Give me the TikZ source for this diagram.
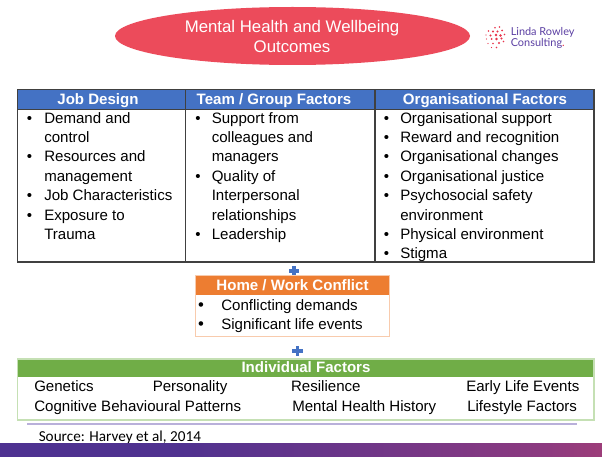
\documentclass[tikz,border=0pt]{standalone}
\usepackage{fontspec}
\setmainfont{Liberation Sans}
\newfontfamily\srcfont{Carlito}
\newfontfamily\logofont{Lato}
\usetikzlibrary{shapes.geometric}
\definecolor{ellred}{HTML}{EC4B5B}
\definecolor{hdrblue}{HTML}{4472C4}
\definecolor{hdrorange}{HTML}{ED7D31}
\definecolor{hdrgreen}{HTML}{70AD47}
\definecolor{lightorange}{HTML}{F8CBAD}
\definecolor{lightgreen}{HTML}{C5E0B4}
\definecolor{tblborder}{HTML}{404040}
\definecolor{plusblue}{HTML}{4472C4}
\definecolor{logopurple}{HTML}{5B3FA3}
\definecolor{logored}{HTML}{E8334A}
\definecolor{lavender}{HTML}{B9B0DA}
\definecolor{barA}{HTML}{4A3192}
\definecolor{barB}{HTML}{503290}
\definecolor{barC}{HTML}{8C3A80}
\definecolor{barD}{HTML}{EE4B58}
\pgfdeclarehorizontalshading{barshade}{100bp}{color(0bp)=(barA); color(40bp)=(barB); color(70bp)=(barC); color(100bp)=(barD)}
\begin{document}
\begin{tikzpicture}[x=0.75pt,y=-0.75pt,
  body/.style={font=\fontsize{11.3}{13}\selectfont, inner sep=0, anchor=base west},
  bul/.style={font=\fontsize{11.3}{13}\selectfont, inner sep=0, anchor=base},
  hdr/.style={font=\fontsize{11.3}{13}\selectfont\bfseries, text=white, inner sep=0, anchor=base},
  ttl/.style={font=\fontsize{12.6}{15}\selectfont, text=white, inner sep=0, anchor=base},
  plusmark/.style={fill=plusblue},
  logodot/.style={fill=logored},
]
\useasboundingbox (0,0) rectangle (602,456);
\fill[white] (0,0) rectangle (602,456);

% title ellipse
\node[ellipse, fill=ellred, minimum width=266.25pt, minimum height=43.5pt, inner sep=0] (outcome) at (292.5,36) {};
\node[ttl] (t1) at (292,32.7) {Mental Health and Wellbeing};
\node[ttl] (t2) at (292,52.7) {Outcomes};

% logo
\foreach \px/\py/\r in {495/27.7/0.9, 499.5/27/0.9,
  488.5/31/0.8, 493/31.5/1.1, 497.5/31.5/1.2, 502/30.5/1.0,
  486/35/0.7, 490.5/35.5/1.1, 496/35/1.3, 500.5/35.5/1.3, 504.5/34.5/0.9,
  486.5/39/0.7, 491.5/39/1.0, 496.5/39/1.3, 501.5/38.5/1.2,
  488/43.5/0.7, 493/43.5/0.9, 499/43/1.1, 503.5/41.5/0.9,
  491.5/47.5/0.6, 496.5/47.5/0.8}
  \fill[logodot] (\px,\py) circle[radius=\r*0.75pt];
\node[font=\logofont\fontsize{8.2}{9}\selectfont, text=logopurple, inner sep=0, anchor=base west] (logo1) at (510.5,35.5) {Linda Rowley};
\node[font=\logofont\fontsize{8.2}{9}\selectfont, text=logopurple, inner sep=0, anchor=base west] (logo2) at (510.5,47) {Consulting\textcolor{logored}{.}};

% table
\fill[hdrblue] (17.5,89.5) rectangle (594,109.5);
\draw[tblborder, line width=0.8pt] (17.5,89.5) rectangle (594,262);
\draw[tblborder, line width=0.8pt] (17.5,109.5) -- (594,109.5);
\draw[tblborder, line width=0.8pt] (185.7,89.5) -- (185.7,262);
\draw[tblborder, line width=0.8pt] (375,89.5) -- (375,262);
\node[hdr] (h1) at (98,105) {Job Design};
\node[hdr] (h2) at (274,105) {Team / Group Factors};
\node[hdr] (h3) at (485,105) {Organisational Factors};

% column 1
\foreach \i in {0,2,4,5} \node[bul] (b1-\i) at (29.5,123.2+19.37*\i) {\textbullet};
\foreach \t [count=\i from 0] in {Demand and, control, Resources and, management, Job Characteristics, Exposure to, Trauma}
  \node[body] (c1-\i) at (44,123.2+19.37*\i) {\t};
% column 2
\foreach \i in {0,3,6} \node[bul] (b2-\i) at (198,123.2+19.37*\i) {\textbullet};
\foreach \t [count=\i from 0] in {Support from, colleagues and, managers, Quality of, Interpersonal, relationships, Leadership}
  \node[body] (c2-\i) at (211.5,123.2+19.37*\i) {\t};
% column 3
\foreach \i in {0,1,2,3,4,6,7} \node[bul] (b3-\i) at (386.5,123.2+19.37*\i) {\textbullet};
\foreach \t [count=\i from 0] in {Organisational support, Reward and recognition, Organisational changes, Organisational justice, Psychosocial safety, environment, Physical environment, Stigma}
  \node[body] (c3-\i) at (400,123.2+19.37*\i) {\t};

% plus 1
\fill[plusmark] (289,269) rectangle (299,272.6);
\fill[plusmark] (292.2,266.2) rectangle (295.8,275.4);

% home/work box
\fill[hdrorange] (195.3,275.7) rectangle (389.3,295);
\draw[lightorange, line width=0.8pt] (195.3,275.7) rectangle (389.3,336.3);
\node[hdr] (h4) at (292.5,290.7) {Home / Work Conflict};
\node[bul, font=\fontsize{12.5}{13}\selectfont] (b4-0) at (201,310.3) {\textbullet};
\node[bul, font=\fontsize{12.5}{13}\selectfont] (b4-1) at (201,329.5) {\textbullet};
\node[body] (c4-0) at (221,310.3) {Conflicting demands};
\node[body] (c4-1) at (221,329.5) {Significant life events};

% plus 2
\fill[plusmark] (292.3,349) rectangle (302.7,352.6);
\fill[plusmark] (295.7,345.6) rectangle (299.3,355.8);

% individual factors
\fill[hdrgreen] (17.5,359) rectangle (594,377);
\draw[lightgreen, line width=0.8pt] (17.5,359) rectangle (594,420);
\node[hdr] (h5) at (306,372.7) {Individual Factors};
\node[body] (i1) at (34,391.7) {Genetics};
\node[body] (i2) at (152.5,391.7) {Personality};
\node[body] (i3) at (290.8,391.7) {Resilience};
\node[body] (i4) at (466,391.7) {Early Life Events};
\node[body] (i5) at (34,411.7) {Cognitive Behavioural Patterns};
\node[body] (i6) at (292,411.7) {Mental Health History};
\node[body] (i7) at (467,411.7) {Lifestyle Factors};

% source line and text
\draw[lavender, line width=0.8pt] (27,424) -- (577,424);
\node[font=\srcfont\fontsize{11.4}{13}\selectfont, inner sep=0, anchor=base west] (src) at (38.5,441.5) {Source: Harvey et al, 2014};

% bottom bar
\shade[shading=barshade] (0,443) rectangle (602,456);
\end{tikzpicture}
\end{document}
